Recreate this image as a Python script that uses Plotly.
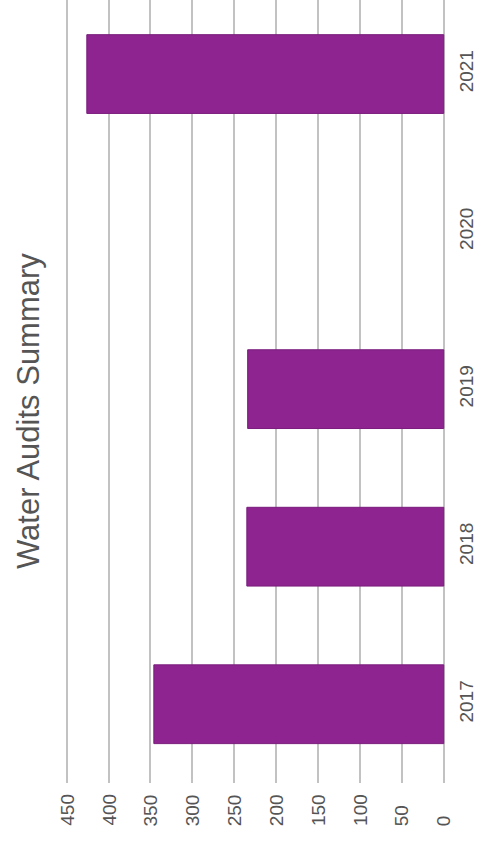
import plotly.graph_objects as go

years = ["2017", "2018", "2019", "2020", "2021"]
audits = [346, 235, 234, None, 426]
value_ticks = [0, 50, 100, 150, 200, 250, 300, 350, 400, 450]

W, H = 483, 846
ML, MR, MT, MB = 60, 33, 0, 63
PLOT_W, PLOT_H = W - ML - MR, H - MT - MB
FONT = "Liberation Sans, Arial, sans-serif"

fig = go.Figure()
fig.add_trace(go.Bar(
    y=years, x=audits, orientation="h", width=0.5,
    marker=dict(color="#8e2490", line=dict(color="#7a1d7c", width=1)),
    hoverinfo="x+y",
))

# value labels, reading bottom-to-top and starting from a common baseline
for v in value_ticks:
    fig.add_annotation(
        x=v, xref="x", y=-(827 - PLOT_H) / PLOT_H, yref="paper",
        text=str(v), textangle=-90, showarrow=False, borderpad=0,
        xanchor="center", yanchor="bottom",
        font=dict(family=FONT, size=19, color="#555555"),
    )

# chart title running up the left edge
fig.add_annotation(
    x=(28 - ML) / PLOT_W, xref="paper", y=(H - MB - 411) / PLOT_H, yref="paper",
    text="Water Audits Summary", textangle=-90, showarrow=False,
    xanchor="center", yanchor="middle",
    font=dict(family=FONT, size=31, color="#555555"),
)

fig.update_layout(
    width=W, height=H,
    margin=dict(l=ML, r=MR, t=MT, b=MB),
    paper_bgcolor="white", plot_bgcolor="white",
    showlegend=False,
    bargap=0.5,
    xaxis=dict(
        range=[458, -7.5], tickvals=value_ticks, showticklabels=False,
        showgrid=True, gridcolor="#c2c2c2", gridwidth=2,
        zeroline=True, zerolinecolor="#c2c2c2", zerolinewidth=2,
        showline=False, fixedrange=True,
    ),
    yaxis=dict(
        type="category", categoryorder="array", categoryarray=years,
        range=[-0.5, 4.47], side="right", tickangle=-90,
        showgrid=False, zeroline=False, showline=False, ticks="",
        ticklabelstandoff=3,
        tickfont=dict(family=FONT, size=19, color="#555555"),
        fixedrange=True,
    ),
)

fig.write_html("out.html")
